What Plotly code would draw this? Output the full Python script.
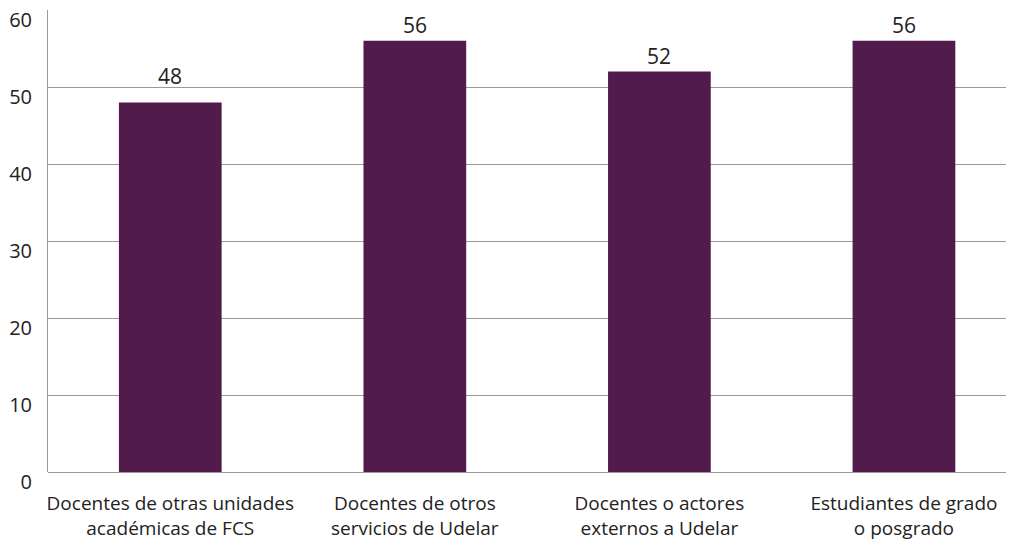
import plotly.graph_objects as go

categories = ["Docentes de otras unidades<br>académicas de FCS",
              "Docentes de otros<br>servicios de Udelar",
              "Docentes o actores<br>externos a Udelar",
              "Estudiantes de grado<br>o posgrado"]
values = [48, 56, 52, 56]
y_ticks = [0, 10, 20, 30, 40, 50, 60]

font = "Open Sans, Noto Sans, sans-serif"
xs = list(range(len(categories)))

fig = go.Figure(go.Bar(
    x=xs, y=values,
    marker=dict(color="#511C4C", line=dict(width=0)),
    width=0.42,
))

px_per_unit = 462 / 60
for x, v in zip(xs, values):
    shift = 16
    c = v + shift / px_per_unit
    if any(abs(c - t) < 1.3 for t in y_ticks):
        shift = 26  # keep label clear of gridline
    fig.add_annotation(x=x, y=v, text=str(v), showarrow=False,
                       yanchor="middle", yshift=shift,
                       font=dict(size=21, color="#222222", family=font))

fig.update_layout(
    width=1014, height=545,
    margin=dict(l=40, r=8, t=2, b=81, autoexpand=False),
    plot_bgcolor="white", paper_bgcolor="white",
    showlegend=False,
    font=dict(family=font, color="#222222"),
    xaxis=dict(
        range=[-0.5, 3.45], tickmode="array",
        tickvals=xs, ticktext=categories, automargin=False,
        tickfont=dict(size=19), showgrid=False, zeroline=False,
        showline=False, ticks="", ticklabelstandoff=18,
    ),
    yaxis=dict(
        range=[0, 60], tickvals=y_ticks, automargin=False,
        tickfont=dict(size=20), showgrid=True, gridcolor="#9a9a9a", gridwidth=1,
        zeroline=True, zerolinecolor="#9a9a9a", zerolinewidth=1,
        showline=True, linecolor="#9a9a9a", linewidth=1,
        ticks="", ticklabelstandoff=11, ticklabelshift=10,
        ticklabeloverflow="allow",
    ),
)

fig.write_html("out.html")
